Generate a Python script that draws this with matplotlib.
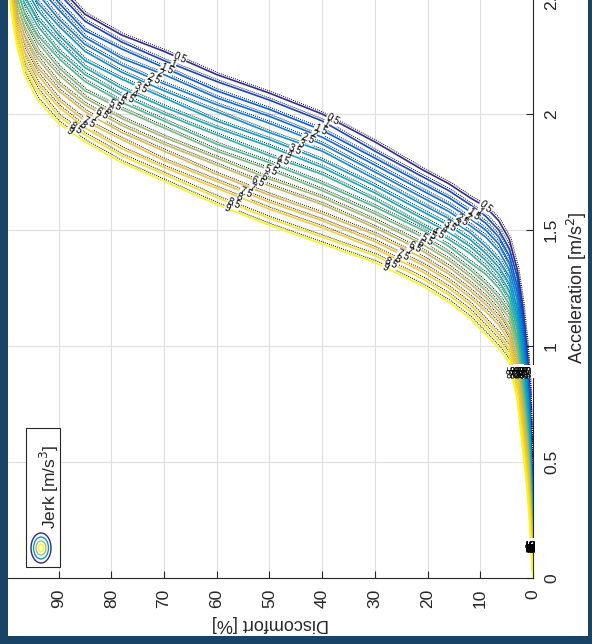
import numpy as np
import matplotlib.pyplot as plt
from matplotlib.patches import Rectangle, Ellipse
from matplotlib.colors import LinearSegmentedColormap
import matplotlib.transforms as mtrans

plt.rcParams['font.family'] = ['Liberation Sans', 'DejaVu Sans']

# --- data ---
# discomfort [%] at which each jerk curve is sampled
discomfort = [0, 0.3, 0.7, 1.2, 2, 3, 4.5, 6.5, 9, 12, 16, 21, 30, 40, 50, 60, 70, 78, 85, 90, 94, 96.5, 98, 99, 99.6]
# contour levels (lowest jerk = dark blue ... highest jerk = yellow)
jerk_levels = [0.5, 1, 1.5, 2, 2.5, 3, 3.5, 4, 4.5, 5, 5.5, 6, 6.5, 7, 7.5, 8, 8.5, 9]
# acceleration [m/s^2] of each contour at the discomfort values above
acc_by_jerk = [
    [0, .55, .85, 1.00, 1.18, 1.33, 1.46, 1.54, 1.60, 1.64, 1.70, 1.76, 1.88, 2.00, 2.09, 2.17, 2.27, 2.34, 2.43, 2.55, 2.66, 2.75, 2.82, 2.88, 2.93],
    [0, .52, .81, .96, 1.14, 1.30, 1.42, 1.50, 1.56, 1.61, 1.67, 1.73, 1.84, 1.97, 2.06, 2.14, 2.23, 2.31, 2.40, 2.52, 2.62, 2.72, 2.79, 2.85, 2.91],
    [0, .50, .78, .93, 1.11, 1.26, 1.39, 1.47, 1.53, 1.58, 1.64, 1.70, 1.81, 1.93, 2.02, 2.10, 2.20, 2.28, 2.36, 2.48, 2.59, 2.68, 2.76, 2.83, 2.89],
    [0, .47, .74, .89, 1.07, 1.23, 1.36, 1.44, 1.50, 1.55, 1.61, 1.67, 1.78, 1.90, 1.99, 2.07, 2.17, 2.24, 2.33, 2.45, 2.55, 2.65, 2.73, 2.80, 2.87],
    [0, .44, .71, .86, 1.03, 1.20, 1.33, 1.41, 1.47, 1.52, 1.58, 1.64, 1.75, 1.87, 1.96, 2.04, 2.13, 2.21, 2.30, 2.41, 2.52, 2.61, 2.70, 2.78, 2.85],
    [0, .42, .67, .82, 1.00, 1.16, 1.30, 1.37, 1.43, 1.49, 1.55, 1.61, 1.72, 1.84, 1.92, 2.01, 2.10, 2.18, 2.27, 2.38, 2.48, 2.58, 2.67, 2.75, 2.83],
    [0, .39, .64, .79, .96, 1.13, 1.27, 1.34, 1.40, 1.46, 1.52, 1.58, 1.69, 1.80, 1.89, 1.97, 2.07, 2.15, 2.23, 2.34, 2.45, 2.55, 2.64, 2.72, 2.81],
    [0, .36, .60, .75, .92, 1.10, 1.24, 1.31, 1.37, 1.43, 1.49, 1.55, 1.66, 1.77, 1.86, 1.94, 2.03, 2.11, 2.20, 2.31, 2.41, 2.51, 2.61, 2.70, 2.79],
    [0, .34, .57, .72, .89, 1.07, 1.21, 1.28, 1.34, 1.40, 1.46, 1.52, 1.63, 1.74, 1.82, 1.91, 2.00, 2.08, 2.17, 2.27, 2.38, 2.48, 2.58, 2.67, 2.77],
    [0, .31, .53, .68, .85, 1.03, 1.18, 1.25, 1.31, 1.36, 1.43, 1.50, 1.60, 1.70, 1.79, 1.87, 1.97, 2.05, 2.14, 2.24, 2.34, 2.44, 2.55, 2.65, 2.76],
    [0, .29, .50, .65, .82, 1.00, 1.15, 1.21, 1.27, 1.33, 1.40, 1.47, 1.57, 1.67, 1.76, 1.84, 1.94, 2.02, 2.10, 2.20, 2.31, 2.41, 2.51, 2.62, 2.74],
    [0, .26, .46, .61, .78, .97, 1.12, 1.18, 1.24, 1.30, 1.37, 1.44, 1.54, 1.64, 1.72, 1.81, 1.90, 1.98, 2.07, 2.17, 2.27, 2.38, 2.48, 2.60, 2.72],
    [0, .23, .43, .58, .74, .94, 1.08, 1.15, 1.21, 1.27, 1.34, 1.41, 1.51, 1.61, 1.69, 1.78, 1.87, 1.95, 2.04, 2.13, 2.24, 2.34, 2.45, 2.57, 2.70],
    [0, .21, .39, .54, .71, .90, 1.05, 1.12, 1.18, 1.24, 1.31, 1.38, 1.48, 1.57, 1.65, 1.74, 1.84, 1.92, 2.01, 2.10, 2.20, 2.31, 2.42, 2.54, 2.68],
    [0, .18, .36, .51, .67, .87, 1.02, 1.09, 1.15, 1.21, 1.28, 1.35, 1.45, 1.54, 1.62, 1.71, 1.80, 1.89, 1.97, 2.06, 2.17, 2.27, 2.39, 2.52, 2.66],
    [0, .15, .32, .47, .63, .84, .99, 1.05, 1.11, 1.18, 1.25, 1.32, 1.42, 1.51, 1.59, 1.68, 1.77, 1.85, 1.94, 2.03, 2.13, 2.24, 2.36, 2.49, 2.64],
    [0, .13, .29, .44, .60, .80, .96, 1.02, 1.08, 1.15, 1.22, 1.29, 1.39, 1.47, 1.55, 1.64, 1.74, 1.82, 1.91, 1.99, 2.10, 2.20, 2.33, 2.47, 2.62],
    [0, .10, .25, .40, .56, .77, .93, .99, 1.05, 1.12, 1.19, 1.26, 1.36, 1.44, 1.52, 1.61, 1.71, 1.79, 1.88, 1.96, 2.06, 2.17, 2.30, 2.44, 2.60],
]
n_curves = len(acc_by_jerk)

parula = LinearSegmentedColormap.from_list('parula', [
    '#352A87', '#0363E1', '#1485D4', '#06A7C6', '#38B99E',
    '#92BF73', '#D9BA56', '#FCCE2E', '#F9FB0E'])

W, H = 592, 644
fig = plt.figure(figsize=(W / 100, H / 100), dpi=100, facecolor='#1a4466')
fig.patches.append(Rectangle((8 / W, 1 - 636 / H), 580 / W, 636 / H,
                             transform=fig.transFigure, facecolor='white',
                             edgecolor='none', zorder=-10))

ax_l, ax_r, ax_b = 7.5, 533, 578
ax = fig.add_axes([ax_l / W, 1 - ax_b / H, (ax_r - ax_l) / W, (ax_b + 2) / H])
ax.set_zorder(5)
ax.set_xlim(99.7, 0)
ax.set_ylim(0, 2.5)

colors = [parula(i / (n_curves - 1)) for i in range(n_curves)]
dot_off = mtrans.ScaledTranslation(1.6 / 100, 1.6 / 100, fig.dpi_scale_trans)
for acc, c in zip(acc_by_jerk, colors):
    ax.plot(discomfort, acc, color=c, lw=1.2, zorder=3)
    ax.plot(discomfort, acc, color='black', lw=0.7, ls=(0, (1, 1.2)),
            transform=ax.transData + dot_off, zorder=2)


def angle_at(d_arr, a_arr, d0):
    pts = ax.transData.transform([[d0 - 0.8, np.interp(d0 - 0.8, d_arr, a_arr)],
                                  [d0 + 0.8, np.interp(d0 + 0.8, d_arr, a_arr)]])
    ang = np.degrees(np.arctan2(pts[1, 1] - pts[0, 1], pts[1, 0] - pts[0, 0]))
    if ang > 90:
        ang -= 180
    if ang < -90:
        ang += 180
    return ang


def contour_label(x, y, s, rot):
    # white gap in the lines first, then the black text on top of all gaps
    ax.text(x, y, s, rotation=rot, fontsize=7, ha='center', va='center',
            color='white', zorder=4,
            bbox=dict(facecolor='white', edgecolor='none', pad=0.2))
    ax.text(x, y, s, rotation=rot, fontsize=7, ha='center', va='center',
            color='black', zorder=5)


bands = [(28, 9), (58, 38), (88, 67)]
for i, (acc, j) in enumerate(zip(acc_by_jerk, jerk_levels)):
    t = i / (n_curves - 1)
    for d_hi, d_lo in bands:
        d0 = d_lo + (d_hi - d_lo) * t
        contour_label(d0, np.interp(d0, discomfort, acc), f'{j:g}',
                      angle_at(discomfort, acc, d0))
    for a0 in (0.89, 0.14):
        contour_label(np.interp(a0, acc, discomfort), a0, f'{j:g}', 90)

ax.set_xticks(range(0, 100, 10))
ax.set_yticks([0, 0.5, 1, 1.5, 2, 2.5])
ax.set_yticklabels(['0', '0.5', '1', '1.5', '2', '2.5'])
ax.yaxis.tick_right()
ax.yaxis.set_label_position('right')
ax.tick_params(direction='in', length=5, width=0.8, color='#262626',
               labelsize=12.5, labelcolor='#262626')
ax.tick_params(axis='x', labelrotation=90, pad=8)
ax.tick_params(axis='y', labelrotation=90, pad=8)
for lbl in ax.get_yticklabels():
    lbl.set_va('center')
for s in ('left', 'top'):
    ax.spines[s].set_visible(False)
for s in ('bottom', 'right'):
    ax.spines[s].set_color('#262626')
    ax.spines[s].set_linewidth(0.8)
ax.grid(True, color='#dedede', lw=0.8)
ax.set_axisbelow(True)
ax.set_facecolor('white')

ax.set_xlabel('Discomfort [%]', rotation=180, fontsize=13, color='#262626', labelpad=5)
ax.set_ylabel('Acceleration [m/s$^2$]', rotation=90, fontsize=13, color='#262626', labelpad=4)

# legend drawn by hand (rotated layout)
def px(x, y):
    return ((x - ax_l) / (ax_r - ax_l), (ax_b - y) / (ax_b + 2))

x0, y0 = px(26, 567)
x1, y1 = px(60, 428)
ax.add_patch(Rectangle((x0, y0), x1 - x0, y1 - y0, transform=ax.transAxes,
                       facecolor='white', edgecolor='#262626', lw=0.8, zorder=6))
cx, cy = px(41, 548)
for k, (w, h) in enumerate([(20, 30), (15, 22), (10, 14), (5, 7)]):
    ax.add_patch(Ellipse((cx, cy), w / (ax_r - ax_l), h / (ax_b + 2),
                         transform=ax.transAxes, facecolor='none',
                         edgecolor=parula(k / 3), lw=1.0, zorder=7))
tx, ty = px(49, 529)
ax.text(tx, ty, 'Jerk [m/s$^3$]', rotation=90, ha='center', va='bottom',
        transform=ax.transAxes, fontsize=12.5, color='#262626', zorder=7)

fig.savefig('out.png', dpi=100, facecolor=fig.get_facecolor())
